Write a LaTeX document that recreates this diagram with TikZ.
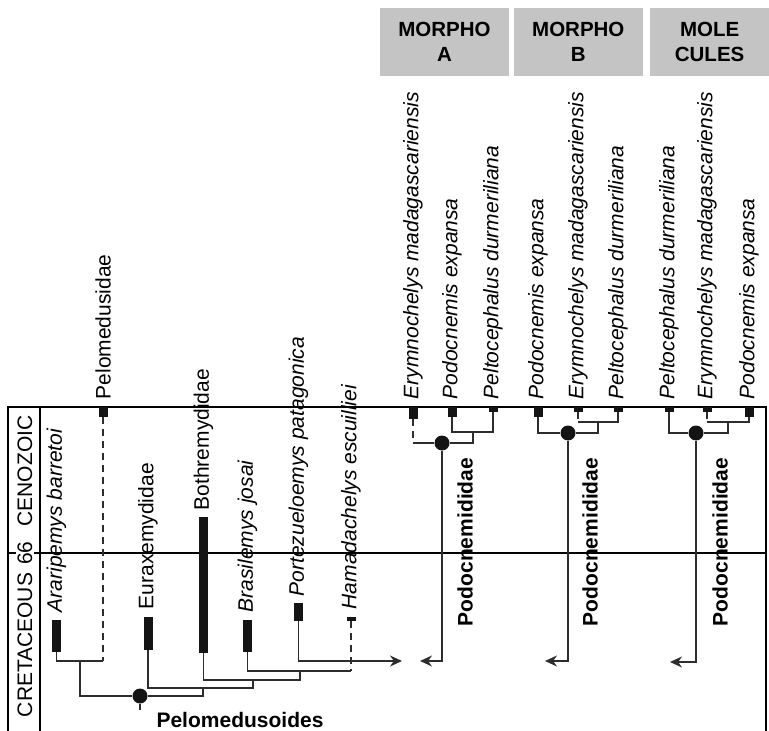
\documentclass[tikz,border=0pt]{standalone}
\usepackage{fontspec}
\setmainfont{Liberation Sans}
\usetikzlibrary{arrows.meta,positioning}
\definecolor{headgray}{RGB}{196,196,196}
\definecolor{branchgray}{RGB}{45,45,45}
\tikzset{
  frame/.style={%
    draw=black,line width=0.55pt,
  },
  branch/.style={%
    draw=branchgray,line width=0.75pt,
  },
  ghost/.style={%
    branch,dash pattern=on 3.5pt off 2.5pt,
  },
  bar/.style={%
    fill=black!92,draw=none,inner sep=0pt,
    minimum width=4.5pt,minimum height=#1,
  },
  taxon/.style={%
    rotate=90,anchor=west,inner sep=1pt,
    font=\fontsize{10.5}{12}\selectfont\itshape,
  },
  group/.style={%
    taxon,font=\fontsize{10.5}{12}\selectfont,
  },
  clade/.style={%
    circle,fill=black!92,inner sep=0pt,minimum size=7.5pt,
  },
  cladename/.style={%
    rotate=90,inner sep=1pt,
    font=\fontsize{10.5}{12}\selectfont\bfseries,
  },
  period/.style={%
    rotate=90,inner sep=1pt,
    font=\fontsize{10.5}{12}\selectfont,
  },
  matrixhead/.style={%
    fill=headgray,align=center,inner sep=0pt,
    minimum height=34pt,
    font=\fontsize{10.25}{12.5}\selectfont\bfseries,
  },
}

\begin{document}
\begin{tikzpicture}[
    x=0.5pt,y=-0.5pt,
    >={Stealth[length=6pt,width=5.5pt]},
  ]
\useasboundingbox (0,0) rectangle (769,731);
% time frame
\coordinate (bl) at (8,731);
\coordinate (tl) at (8,407);
\coordinate (tr) at (766,407);
\coordinate (br) at (766,731);
\coordinate (cl) at (40,407);
\coordinate (k66) at (8,553);
\draw[frame] (bl) -- (tl) -- (tr) -- (br);
\draw[frame] (cl) -- (cl |- bl);
\draw[frame] (k66) -- (k66 -| br);
\node[period] (cenozoic) at (25,471) {CENOZOIC};
\node[period,fill=white] (age) at (25,553) {66};
\node[period] (cretaceous) at (25,645) {CRETACEOUS};
% matrices
\node[matrixhead,minimum width=64.5pt] (morphoA) at (444.5,42) {MORPHO\\A};
\node[matrixhead,minimum width=64.5pt,right=2pt of morphoA] (morphoB) {MORPHO\\B};
\node[matrixhead,minimum width=60pt,right=3pt of morphoB] (molecules) {MOLE\\CULES};
% Pelomedusoides
\node[bar=16pt] (ararBar) at (56.5,636) {};
\node[bar=5pt] (pelBar) at (103,412) {};
\node[bar=16.5pt] (euraBar) at (148,633.5) {};
\node[bar=68pt] (bothBar) at (203.5,585) {};
\node[bar=16pt] (brasBar) at (247.5,636) {};
\node[bar=9pt] (portBar) at (298.5,612) {};
\node[bar=2pt] (hamaBar) at (351,619) {};
\node[above=2.5pt of ararBar,taxon] (araripemys) {Araripemys barretoi};
\node[above=2.5pt of pelBar,group] (pelomedusidae) {Pelomedusidae};
\node[above=2.5pt of euraBar,group] (euraxemydidae) {Euraxemydidae};
\node[above=2pt of bothBar,group] (bothremydidae) {Bothremydidae};
\node[above=2.5pt of brasBar,taxon] (brasilemys) {Brasilemys josai};
\node[above=2pt of portBar,taxon] (portezueloemys) {Portezueloemys patagonica};
\node[above=2.5pt of hamaBar,taxon] (hamadachelys) {Hamadachelys escuilliei};
\coordinate (j1) at (80,661);
\node[clade] (rootPel) at (140,696) {};
\coordinate (j2) at (203,688);
\coordinate (j3) at (253,680);
\coordinate (j4) at (300,671);
\coordinate (toPodo) at (402,661);
\draw[branch] (ararBar.south) |- (j1) -- (j1 -| pelBar);
\draw[ghost] (pelBar.south) -- (j1 -| pelBar);
\draw[branch] (j1) |- (rootPel) -| (j2);
\draw[branch] (euraBar.south) |- (j2) -| (j3);
\draw[branch] (bothBar.south) |- (j3) -| (j4);
\draw[branch] (brasBar.south) |- (j4) -- (j4 -| hamaBar);
\draw[ghost] (hamaBar.south) -- (j4 -| hamaBar);
\draw[branch] (rootPel) -- ++(0,14);
\draw[branch,->] (portBar.south) |- (toPodo);
\node[font=\fontsize{10.5}{12}\selectfont\bfseries] (pelomedusoides) at (240,720) {Pelomedusoides};
% Morpho A
\node[bar=6pt] (eryA) at (413,413) {};
\node[bar=5pt] (podA) at (452,412) {};
\node[bar=2.5pt] (pelA) at (493,409.5) {};
\node[above=2.5pt of eryA,taxon] (eryAName) {Erymnochelys madagascariensis};
\node[above=2.5pt of podA,taxon] (podAName) {Podocnemis expansa};
\node[above=2.5pt of pelA,taxon] (pelAName) {Peltocephalus durmeriliana};
\node[clade] (cladeA) at (442,443) {};
\coordinate (aIn) at (473,432);
\coordinate (fromA) at (420,661);
\draw[branch] (podA.south) |- (aIn) -| (pelA.south);
\draw[ghost] (eryA.south) -- (eryA |- cladeA);
\draw[branch] (eryA |- cladeA) -- (cladeA) -| (aIn);
\draw[branch,->] (cladeA) |- (fromA);
\node[cladename] (podocA) at (465,542) {Podocnemididae};
% Morpho B
\node[bar=5pt] (podB) at (538,412) {};
\node[bar=2.5pt] (eryB) at (578,409.5) {};
\node[bar=2.5pt] (pelB) at (618,409.5) {};
\node[above=2.5pt of podB,taxon] (podBName) {Podocnemis expansa};
\node[above=2.5pt of eryB,taxon] (eryBName) {Erymnochelys madagascariensis};
\node[above=2.5pt of pelB,taxon] (pelBName) {Peltocephalus durmeriliana};
\node[clade] (cladeB) at (568,433) {};
\coordinate (bIn) at (598,422);
\coordinate (fromB) at (545,661);
\draw[ghost] (eryB.south) -- (eryB |- bIn);
\draw[branch] (eryB |- bIn) -- (bIn) -| (pelB.south);
\draw[branch] (podB.south) |- (cladeB) -| (bIn);
\draw[branch,->] (cladeB) |- (fromB);
\node[cladename] (podocB) at (590,542) {Podocnemididae};
% Molecules
\node[bar=2.5pt] (pelM) at (669,409.5) {};
\node[bar=2.5pt] (eryM) at (707,409.5) {};
\node[bar=5pt] (podM) at (749,412) {};
\node[above=2.5pt of pelM,taxon] (pelMName) {Peltocephalus durmeriliana};
\node[above=2.5pt of eryM,taxon] (eryMName) {Erymnochelys madagascariensis};
\node[above=2.5pt of podM,taxon] (podMName) {Podocnemis expansa};
\node[clade] (cladeM) at (696,433) {};
\coordinate (mIn) at (728,422);
\coordinate (fromM) at (670,662);
\draw[ghost] (eryM.south) -- (eryM |- mIn);
\draw[branch] (eryM |- mIn) -- (mIn) -| (podM.south);
\draw[branch] (pelM.south) |- (cladeM) -| (mIn);
\draw[branch,->] (cladeM) |- (fromM);
\node[cladename] (podocM) at (720,542) {Podocnemididae};
\end{tikzpicture}
\end{document}
